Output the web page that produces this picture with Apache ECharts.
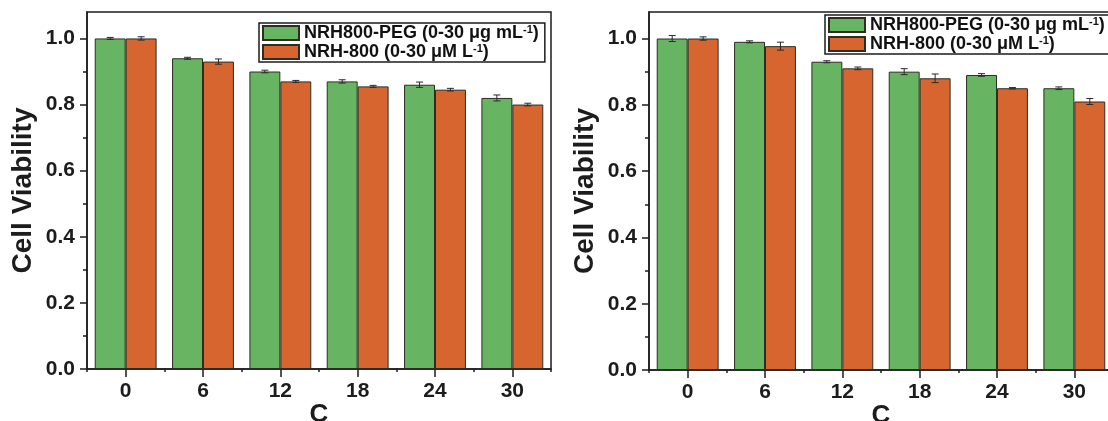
<!DOCTYPE html>
<html>
<head>
<meta charset="utf-8">
<title>Cell Viability</title>
<script src="https://cdn.jsdelivr.net/npm/echarts@6/dist/echarts.min.js"></script>
<style>
  html, body { margin: 0; padding: 0; background: #fff; }
  #chart { width: 1108px; height: 421px; }
</style>
</head>
<body>
<div id="chart"></div>
<script>
// Concentrations on the x axis
const categories = ['0', '6', '12', '18', '24', '30'];
const yTickValues = [0, 0.2, 0.4, 0.6, 0.8, 1.0];
const yMinorTickValues = [0.1, 0.3, 0.5, 0.7, 0.9];

// Panel 1
const leftPeg = [1.00, 0.94, 0.90, 0.87, 0.86, 0.82];
const leftPegErr = [0.003, 0.003, 0.004, 0.005, 0.008, 0.009];
const leftNrh = [1.00, 0.93, 0.87, 0.855, 0.845, 0.80];
const leftNrhErr = [0.005, 0.008, 0.003, 0.003, 0.004, 0.004];

// Panel 2
const rightPeg = [1.00, 0.99, 0.93, 0.90, 0.89, 0.85];
const rightPegErr = [0.009, 0.003, 0.003, 0.009, 0.004, 0.004];
const rightNrh = [1.00, 0.977, 0.91, 0.88, 0.85, 0.81];
const rightNrhErr = [0.005, 0.012, 0.004, 0.013, 0.002, 0.009];

const seriesNames = ['NRH800-PEG', 'NRH-800'];
const legendParts = {
  'NRH800-PEG': ['NRH800-PEG (0-30 μg mL', '-1', ')'],
  'NRH-800': ['NRH-800 (0-30 μM L', '-1', ')']
};

const GREEN = '#67b563';
const ORANGE = '#d6652f';
const INK = '#1c1c1c';
const FONT = '"Liberation Sans", Arial, sans-serif';

const grids = [
  { left: 87, top: 12, width: 464, height: 357 },
  { left: 649, top: 12, width: 464, height: 358 }
];
const legendPos = [
  { left: 259, top: 23 },
  { left: 825, top: 15 }
];
const panels = [
  { peg: leftPeg, pegErr: leftPegErr, nrh: leftNrh, nrhErr: leftNrhErr },
  { peg: rightPeg, pegErr: rightPegErr, nrh: rightNrh, nrhErr: rightNrhErr }
];

// Error bar drawn at the centre of the bar it belongs to
function errorBar(sign) {
  return function (params, api) {
    const idx = api.value(0);
    const v = api.value(1);
    const e = api.value(2);
    const band = api.size([1, 0])[0];
    const x = api.coord([idx, v])[0] + sign * band * 0.2;
    const yHi = api.coord([idx, v + e])[1];
    const yLo = api.coord([idx, v - e])[1];
    const cap = 3.5;
    const style = { stroke: '#2a2a2a', lineWidth: 1 };
    return {
      type: 'group',
      children: [
        { type: 'line', shape: { x1: x, y1: yHi, x2: x, y2: yLo }, style },
        { type: 'line', shape: { x1: x - cap, y1: yHi, x2: x + cap, y2: yHi }, style },
        { type: 'line', shape: { x1: x - cap, y1: yLo, x2: x + cap, y2: yLo }, style }
      ]
    };
  };
}

const option = {
  animation: false,
  backgroundColor: '#fff',
  grid: grids.map(g => Object.assign({
    show: true, borderColor: INK, borderWidth: 1.5, backgroundColor: 'transparent',
    containLabel: false, outerBoundsMode: 'none'
  }, g)),
  legend: legendPos.map(p => ({
    left: p.left, top: p.top,
    orient: 'vertical',
    data: seriesNames,
    icon: 'rect',
    itemWidth: 36, itemHeight: 14, itemGap: 1,
    padding: [1, 6, 1, 3],
    borderColor: INK, borderWidth: 1.5,
    selectedMode: false,
    formatter: name => {
      const p = legendParts[name];
      return '{t|' + p[0] + '}{s|' + p[1] + '}{t|' + p[2] + '}';
    },
    textStyle: {
      rich: {
        t: { fontFamily: FONT, fontWeight: 'bold', fontSize: 18, color: '#111', lineHeight: 18 },
        s: { fontFamily: FONT, fontWeight: 'bold', fontSize: 11, color: '#111', lineHeight: 11, verticalAlign: 'top' }
      }
    }
  })),
  xAxis: [],
  yAxis: [],
  series: []
};

grids.forEach((g, gi) => {
  // main category axis: ticks under each label
  option.xAxis.push({
    type: 'category', gridIndex: gi, position: 'bottom', data: categories,
    name: 'C', nameLocation: 'middle', nameGap: 33, nameMoveOverlap: false,
    nameTextStyle: { fontFamily: FONT, fontWeight: 'bold', fontSize: 26, color: INK },
    axisLine: { show: true, onZero: false, lineStyle: { color: INK, width: 1.5 } },
    axisTick: { show: true, alignWithLabel: true, length: 8, lineStyle: { color: INK, width: 1.5 } },
    axisLabel: { fontFamily: FONT, fontWeight: 'bold', fontSize: 21, color: INK, margin: 12 },
    splitLine: { show: false }
  });
  // short ticks on the category boundaries
  option.xAxis.push({
    type: 'category', gridIndex: gi, position: 'bottom', data: categories,
    axisLine: { show: false, onZero: false },
    axisTick: { show: true, alignWithLabel: false, length: 3, lineStyle: { color: INK, width: 1.5 } },
    axisLabel: { show: false },
    splitLine: { show: false }
  });
  option.yAxis.push({
    type: 'value', gridIndex: gi, position: 'left', min: 0, max: 1.08,
    name: 'Cell Viability', nameLocation: 'middle', nameGap: 50, nameRotate: 90,
    nameTextStyle: { fontFamily: FONT, fontWeight: 'bold', fontSize: 28, color: INK },
    axisLine: { show: true, onZero: false, lineStyle: { color: INK, width: 1.5 } },
    axisTick: { show: true, length: 7, customValues: yTickValues, lineStyle: { color: INK, width: 1.5 } },
    axisLabel: {
      customValues: yTickValues, margin: 12,
      fontFamily: FONT, fontWeight: 'bold', fontSize: 21, color: INK,
      formatter: v => v.toFixed(1)
    },
    splitLine: { show: false }
  });
  // minor ticks halfway between the labelled ones
  option.yAxis.push({
    type: 'value', gridIndex: gi, position: 'left', min: 0, max: 1.08,
    axisLine: { show: false, onZero: false },
    axisTick: { show: true, length: 4, customValues: yMinorTickValues, lineStyle: { color: INK, width: 1.5 } },
    axisLabel: { show: false },
    splitLine: { show: false }
  });

  const p = panels[gi];
  const xi = gi * 2, yi = gi * 2;
  const barStyle = (c) => ({ color: c, borderColor: '#2d2d24', borderWidth: 1 });
  option.series.push({
    type: 'bar', name: seriesNames[0], xAxisIndex: xi, yAxisIndex: yi,
    data: p.peg, barGap: '0%', barCategoryGap: '20%', itemStyle: barStyle(GREEN)
  });
  option.series.push({
    type: 'bar', name: seriesNames[1], xAxisIndex: xi, yAxisIndex: yi,
    data: p.nrh, barGap: '0%', barCategoryGap: '20%', itemStyle: barStyle(ORANGE)
  });
  option.series.push({
    type: 'custom', xAxisIndex: xi, yAxisIndex: yi, z: 5, silent: true,
    renderItem: errorBar(-1),
    data: p.peg.map((v, i) => [i, v, p.pegErr[i]])
  });
  option.series.push({
    type: 'custom', xAxisIndex: xi, yAxisIndex: yi, z: 5, silent: true,
    renderItem: errorBar(1),
    data: p.nrh.map((v, i) => [i, v, p.nrhErr[i]])
  });
});

const chart = echarts.init(document.getElementById('chart'), null, { renderer: 'canvas' });
chart.setOption(option);
</script>
</body>
</html>
